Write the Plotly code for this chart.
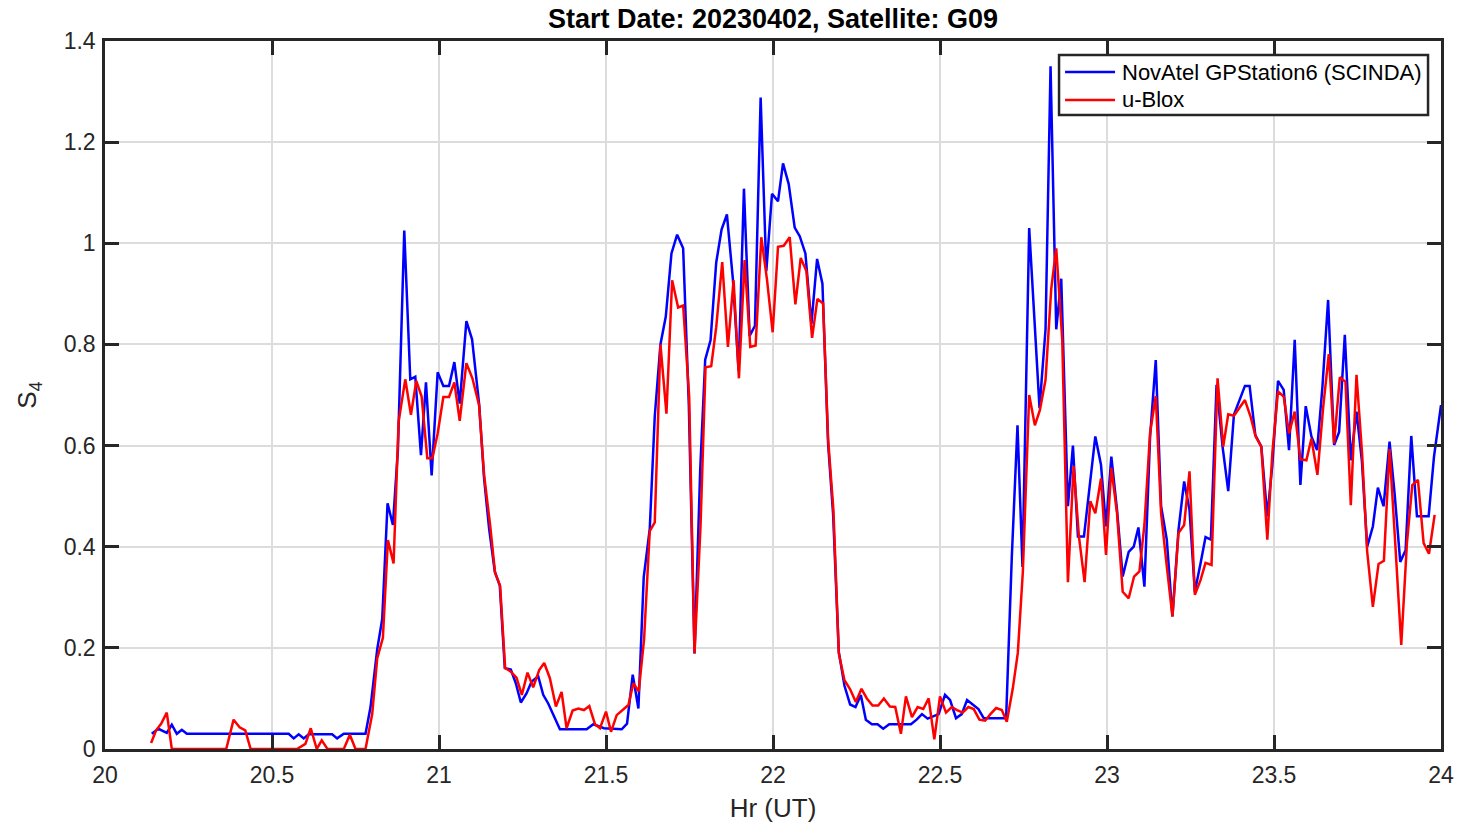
import plotly.graph_objects as go

# NovAtel GPStation6 (SCINDA) — time (hr UT) and S4
novatel_hr = [20.14, 20.16, 20.185, 20.2, 20.215, 20.23, 20.245, 20.55, 20.565, 20.58, 20.595, 20.61,
              20.68, 20.695, 20.715, 20.78, 20.795, 20.815, 20.83, 20.846, 20.862, 20.877, 20.896,
              20.914, 20.929, 20.946, 20.961, 20.978, 20.996, 21.013, 21.03, 21.046, 21.062, 21.082,
              21.099, 21.12, 21.135, 21.15, 21.167, 21.182, 21.197, 21.215, 21.23, 21.245, 21.262,
              21.277, 21.297, 21.312, 21.327, 21.362, 21.442, 21.462, 21.494, 21.547, 21.563, 21.58,
              21.597, 21.613, 21.631, 21.646, 21.663, 21.679, 21.696, 21.713, 21.731, 21.748, 21.765,
              21.782, 21.797, 21.813, 21.83, 21.846, 21.862, 21.88, 21.897, 21.913, 21.93, 21.946,
              21.963, 21.98, 21.997, 22.015, 22.03, 22.047, 22.065, 22.08, 22.097, 22.115, 22.132,
              22.148, 22.165, 22.18, 22.197, 22.214, 22.231, 22.247, 22.263, 22.278, 22.296, 22.313,
              22.33, 22.348, 22.413, 22.43, 22.446, 22.463, 22.496, 22.515, 22.53, 22.548, 22.565,
              22.581, 22.598, 22.615, 22.631, 22.698, 22.715, 22.732, 22.747, 22.767, 22.798, 22.816,
              22.831, 22.848, 22.863, 22.883, 22.898, 22.913, 22.931, 22.948, 22.965, 22.982, 22.997,
              23.013, 23.03, 23.047, 23.065, 23.08, 23.094, 23.112, 23.129, 23.146, 23.162, 23.179,
              23.196, 23.214, 23.231, 23.247, 23.263, 23.28, 23.295, 23.311, 23.328, 23.346, 23.363,
              23.38, 23.395, 23.413, 23.427, 23.444, 23.462, 23.48, 23.495, 23.512, 23.529, 23.545,
              23.562, 23.579, 23.595, 23.612, 23.629, 23.645, 23.662, 23.68, 23.695, 23.712, 23.73,
              23.747, 23.763, 23.779, 23.796, 23.811, 23.828, 23.846, 23.861, 23.878, 23.894, 23.911,
              23.928, 23.963, 23.979, 24.0]
novatel_s4 = [0.03, 0.04, 0.032, 0.048, 0.03, 0.038, 0.03, 0.03, 0.021, 0.029, 0.021, 0.029,
              0.029, 0.021, 0.03, 0.03, 0.083, 0.197, 0.257, 0.486, 0.443, 0.592, 1.025,
              0.731, 0.736, 0.581, 0.725, 0.541, 0.745, 0.718, 0.718, 0.765, 0.683, 0.846,
              0.81, 0.683, 0.535, 0.436, 0.351, 0.323, 0.16, 0.157, 0.13, 0.092, 0.11,
              0.133, 0.144, 0.107, 0.09, 0.039, 0.039, 0.049, 0.041, 0.039, 0.05, 0.147,
              0.08, 0.34, 0.435, 0.658, 0.8, 0.855, 0.98, 1.017, 0.99, 0.68, 0.189,
              0.551, 0.77, 0.808, 0.962, 1.027, 1.057, 0.928, 0.748, 1.108, 0.817, 0.837,
              1.288, 0.945, 1.098, 1.083, 1.158, 1.117, 1.031, 1.014, 0.98, 0.84, 0.969,
              0.92, 0.603, 0.464, 0.192, 0.125, 0.088, 0.083, 0.107, 0.058, 0.049, 0.049,
              0.04, 0.049, 0.049, 0.058, 0.069, 0.06, 0.069, 0.107, 0.097, 0.061, 0.069,
              0.097, 0.088, 0.079, 0.061, 0.061, 0.38, 0.64, 0.36, 1.03, 0.674, 0.83,
              1.35, 0.83, 0.93, 0.48, 0.6, 0.42, 0.42, 0.52, 0.618, 0.562, 0.44,
              0.578, 0.473, 0.341, 0.39, 0.4, 0.438, 0.321, 0.618, 0.769, 0.48, 0.414,
              0.262, 0.433, 0.529, 0.473, 0.311, 0.367, 0.419, 0.414, 0.72, 0.598, 0.51,
              0.661, 0.687, 0.718, 0.718, 0.621, 0.598, 0.46, 0.562, 0.728, 0.71, 0.591,
              0.809, 0.522, 0.678, 0.618, 0.591, 0.716, 0.888, 0.601, 0.627, 0.819, 0.571,
              0.667, 0.571, 0.4, 0.44, 0.517, 0.48, 0.608, 0.506, 0.37, 0.393, 0.619,
              0.46, 0.46, 0.578, 0.68]

# u-Blox — time (hr UT) and S4
ublox_hr = [20.138, 20.153, 20.168, 20.185, 20.2, 20.363, 20.385, 20.403, 20.42, 20.436, 20.575, 20.6,
            20.616, 20.634, 20.649, 20.666, 20.715, 20.733, 20.75, 20.78, 20.8, 20.815, 20.832,
            20.847, 20.864, 20.879, 20.899, 20.916, 20.932, 20.948, 20.965, 20.98, 20.996, 21.013,
            21.03, 21.046, 21.062, 21.082, 21.1, 21.12, 21.135, 21.153, 21.168, 21.183, 21.198,
            21.215, 21.232, 21.248, 21.265, 21.282, 21.3, 21.315, 21.332, 21.35, 21.367, 21.382,
            21.4, 21.417, 21.434, 21.45, 21.467, 21.482, 21.5, 21.515, 21.532, 21.55, 21.567,
            21.582, 21.598, 21.614, 21.631, 21.646, 21.663, 21.681, 21.698, 21.716, 21.731, 21.749,
            21.765, 21.783, 21.798, 21.815, 21.83, 21.848, 21.865, 21.882, 21.898, 21.915, 21.932,
            21.948, 21.965, 21.982, 21.999, 22.015, 22.032, 22.05, 22.067, 22.083, 22.1, 22.117,
            22.133, 22.15, 22.165, 22.181, 22.197, 22.214, 22.231, 22.248, 22.265, 22.281, 22.298,
            22.315, 22.332, 22.35, 22.366, 22.383, 22.398, 22.416, 22.433, 22.45, 22.466, 22.483,
            22.5, 22.518, 22.535, 22.551, 22.568, 22.585, 22.601, 22.618, 22.635, 22.651, 22.668,
            22.685, 22.7, 22.718, 22.733, 22.748, 22.767, 22.784, 22.799, 22.816, 22.833, 22.848,
            22.866, 22.883, 22.9, 22.916, 22.933, 22.95, 22.965, 22.982, 22.997, 23.013, 23.03,
            23.047, 23.065, 23.081, 23.097, 23.112, 23.129, 23.146, 23.162, 23.179, 23.196, 23.214,
            23.231, 23.247, 23.263, 23.28, 23.295, 23.313, 23.331, 23.348, 23.363, 23.38, 23.395,
            23.413, 23.43, 23.445, 23.462, 23.48, 23.495, 23.512, 23.529, 23.545, 23.562, 23.579,
            23.597, 23.612, 23.63, 23.647, 23.664, 23.68, 23.697, 23.714, 23.73, 23.747, 23.764,
            23.779, 23.796, 23.813, 23.829, 23.846, 23.863, 23.881, 23.898, 23.914, 23.931, 23.948,
            23.964, 23.981]
ublox_s4 = [0.012, 0.037, 0.05, 0.072, 0.0, 0.0, 0.058, 0.043, 0.037, 0.0, 0.0, 0.01,
            0.041, 0.0, 0.017, 0.0, 0.0, 0.028, 0.0, 0.0, 0.069, 0.179, 0.22,
            0.413, 0.367, 0.647, 0.731, 0.661, 0.728, 0.697, 0.575, 0.575, 0.624, 0.696,
            0.696, 0.725, 0.649, 0.763, 0.733, 0.68, 0.542, 0.443, 0.348, 0.323, 0.16,
            0.153, 0.141, 0.107, 0.151, 0.122, 0.156, 0.17, 0.14, 0.084, 0.113, 0.041,
            0.076, 0.08, 0.077, 0.085, 0.049, 0.041, 0.074, 0.034, 0.067, 0.077, 0.087,
            0.13, 0.114, 0.217, 0.431, 0.448, 0.8, 0.663, 0.927, 0.873, 0.877, 0.697,
            0.189, 0.44, 0.755, 0.757, 0.834, 0.963, 0.795, 0.927, 0.733, 0.967, 0.795,
            0.798, 1.012, 0.928, 0.824, 0.993, 0.995, 1.012, 0.879, 0.971, 0.945, 0.813,
            0.89, 0.881, 0.613, 0.471, 0.189, 0.136, 0.118, 0.093, 0.119, 0.1, 0.086,
            0.086, 0.1, 0.084, 0.083, 0.03, 0.104, 0.063, 0.083, 0.079, 0.1, 0.019,
            0.104, 0.072, 0.083, 0.077, 0.072, 0.083, 0.079, 0.058, 0.056, 0.069, 0.081,
            0.077, 0.054, 0.12, 0.19, 0.35, 0.7, 0.64, 0.67, 0.73, 0.91, 0.99,
            0.81, 0.33, 0.56, 0.42, 0.33, 0.49, 0.466, 0.535, 0.384, 0.556, 0.466,
            0.311, 0.298, 0.341, 0.351, 0.443, 0.625, 0.698, 0.466, 0.361, 0.262, 0.427,
            0.443, 0.549, 0.305, 0.334, 0.368, 0.364, 0.733, 0.598, 0.662, 0.659, 0.674,
            0.69, 0.657, 0.618, 0.598, 0.414, 0.585, 0.707, 0.697, 0.624, 0.667, 0.573,
            0.571, 0.614, 0.542, 0.674, 0.781, 0.604, 0.735, 0.726, 0.482, 0.74, 0.581,
            0.39, 0.281, 0.366, 0.372, 0.593, 0.407, 0.206, 0.407, 0.522, 0.532, 0.407,
            0.386, 0.463]

series_names = ["NovAtel GPStation6 (SCINDA)", "u-Blox"]
series_colors = ["#0000ff", "#ff0000"]

x_ticks = [20, 20.5, 21, 21.5, 22, 22.5, 23, 23.5, 24]
x_tick_labels = ["20", "20.5", "21", "21.5", "22", "22.5", "23", "23.5", "24"]
y_ticks = [0, 0.2, 0.4, 0.6, 0.8, 1.0, 1.2, 1.4]
y_tick_labels = ["0", "0.2", "0.4", "0.6", "0.8", "1", "1.2", "1.4"]

FONT = "Liberation Sans, Arial, Helvetica, sans-serif"
AXC = "#262626"

fig = go.Figure()
fig.add_trace(go.Scatter(x=novatel_hr, y=novatel_s4, mode="lines", name=series_names[0],
                         line=dict(color=series_colors[0], width=2.5), showlegend=False))
fig.add_trace(go.Scatter(x=ublox_hr, y=ublox_s4, mode="lines", name=series_names[1],
                         line=dict(color=series_colors[1], width=2.5), showlegend=False))

axis_common = dict(
    showline=True, linecolor=AXC, linewidth=2.5, mirror="ticks",
    ticks="inside", ticklen=14, tickwidth=2.5, tickcolor=AXC,
    showgrid=True, gridcolor="#dcdcdc", gridwidth=2,
    zeroline=False, automargin=False,
    tickfont=dict(family=FONT, size=23, color=AXC),
)

fig.update_xaxes(range=[20, 24], tickvals=x_ticks, ticktext=x_tick_labels,
                 ticklabelstandoff=4,
                 title=dict(text="Hr (UT)", font=dict(family=FONT, size=26, color=AXC), standoff=12),
                 **axis_common)
fig.update_yaxes(range=[0, 1.4], tickvals=y_ticks, ticktext=y_tick_labels,
                 ticklabelstandoff=2,
                 title=dict(text="S<sub>4</sub>", font=dict(family=FONT, size=26, color=AXC), standoff=20),
                 **axis_common)

# Legend box (MATLAB style) drawn in paper coordinates
leg_x0, leg_x1 = 0.7141, 0.9903
leg_y0, leg_y1 = 0.8955, 0.9802
sample_x0, sample_x1, text_x = 0.7186, 0.7560, 0.7597
row_y = [0.9562, 0.9167]

shapes = [dict(type="rect", xref="paper", yref="paper", x0=leg_x0, x1=leg_x1, y0=leg_y0, y1=leg_y1,
               line=dict(color=AXC, width=2.5), fillcolor="white", layer="above")]
annotations = []
for name, color, ry in zip(series_names, series_colors, row_y):
    shapes.append(dict(type="line", xref="paper", yref="paper", x0=sample_x0, x1=sample_x1,
                       y0=ry, y1=ry, line=dict(color=color, width=2.5), layer="above"))
    annotations.append(dict(text=name, xref="paper", yref="paper", x=text_x, y=ry,
                            xanchor="left", yanchor="middle", showarrow=False,
                            font=dict(family=FONT, size=22, color="black")))

fig.update_layout(
    width=1460, height=829,
    margin=dict(l=105, r=19, t=41, b=80, autoexpand=False),
    paper_bgcolor="white", plot_bgcolor="white",
    title=dict(text="<b>Start Date: 20230402, Satellite: G09</b>",
               font=dict(family=FONT, size=27, color="black"),
               x=0.5, xref="paper", xanchor="center",
               y=1 - 19 / 829, yref="container", yanchor="middle"),
    shapes=shapes, annotations=annotations,
    showlegend=False,
)

fig.write_html("out.html")
